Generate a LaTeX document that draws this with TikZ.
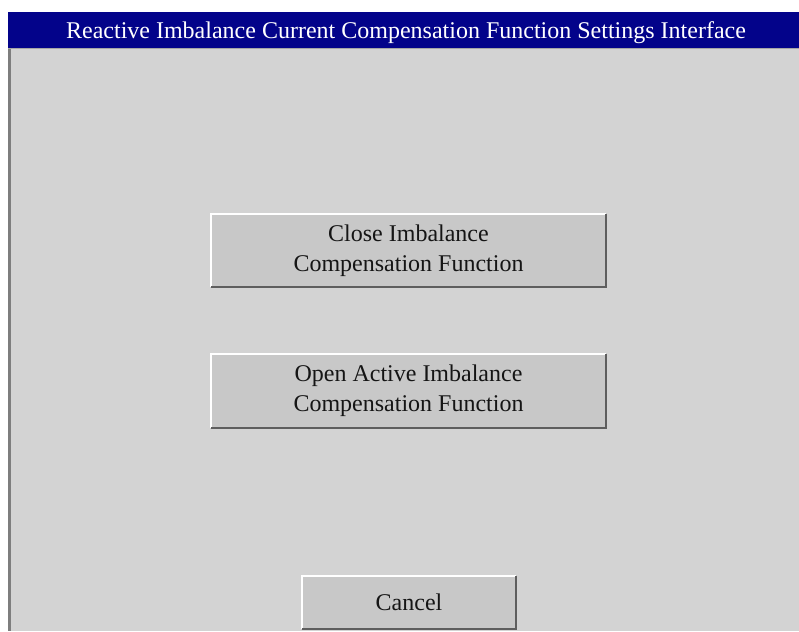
\documentclass[tikz,border=0pt]{standalone}
\usepackage{fontspec}
\setmainfont{Liberation Serif}
\definecolor{panel}{HTML}{D3D3D3}
\definecolor{face}{HTML}{C8C8C8}
\definecolor{navy}{HTML}{03038A}
\definecolor{shade}{HTML}{5E5E5E}
\definecolor{txt}{HTML}{151515}
\tikzset{
  btn/.style={draw=none, fill=face, inner sep=0pt, align=center, text=txt,
    font=\fontsize{24}{30}\selectfont},
  hl/.style={draw=white, line width=2pt},
  sh/.style={draw=shade, line width=2.5pt},
}
\begin{document}
\begin{tikzpicture}[x=1pt,y=-1pt]
\useasboundingbox (0,0) rectangle (799,631);
\fill[white] (0,0) rectangle (799,631);
\fill[panel] (8,49) rectangle (799,631);
\fill[shade!80] (8,49) rectangle (10.5,631);
\fill[navy] (8,12) rectangle (799,49);
\draw[gray!70, line width=1pt] (8,49) -- (799,49);
\node[text=white, font=\fontsize{24}{28}\selectfont, inner sep=0pt] (title) at (406,32.5) {Reactive Imbalance Current Compensation Function Settings Interface};

\node[btn, minimum width=397pt, minimum height=75pt] (b1) at (408.5,250.5) {Close Imbalance\\Compensation Function};
\node[btn, minimum width=397pt, minimum height=76pt] (b2) at (408.5,391) {Open Active Imbalance\\Compensation Function};
\node[btn, minimum width=216pt, minimum height=55pt] (b3) at (409,602.5) {Cancel};

\foreach \b in {b1,b2,b3}{
  \draw[hl] ([xshift=1pt,yshift=1pt]\b.south west) |- ([xshift=-1pt,yshift=-1pt]\b.north east);
  \draw[sh] ([xshift=-1.25pt,yshift=-1.25pt]\b.north east) |- ([xshift=1.25pt,yshift=1.25pt]\b.south west);
}
\end{tikzpicture}
\end{document}
